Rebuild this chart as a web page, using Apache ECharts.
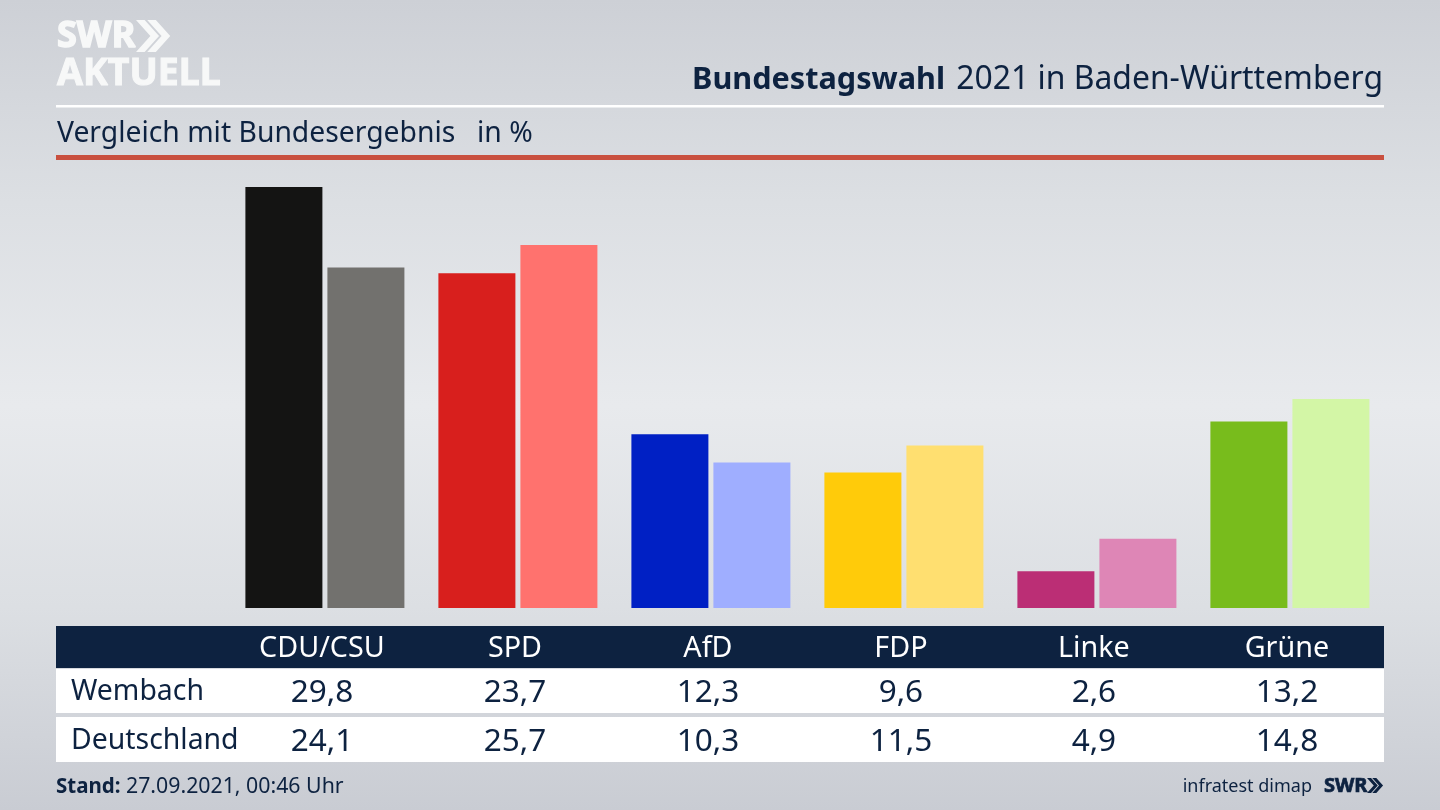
<!DOCTYPE html>
<html>
<head>
<meta charset="utf-8">
<title>Bundestagswahl 2021</title>
<style>
  html, body { margin: 0; padding: 0; }
  #main { width: 1440px; height: 810px; }
</style>
<script src="https://cdn.jsdelivr.net/npm/echarts@6/dist/echarts.min.js"></script>
</head>
<body>
<div id="main"></div>
<script>
const parties = ['CDU/CSU', 'SPD', 'AfD', 'FDP', 'Linke', 'Grüne'];
const wembach = [29.8, 23.7, 12.3, 9.6, 2.6, 13.2];
const deutschland = [24.1, 25.7, 10.3, 11.5, 4.9, 14.8];
const rowNames = ['Wembach', 'Deutschland'];

const darkColors = ['#141413', '#d81f1d', '#0020c4', '#ffcb0a', '#bb2e75', '#78bc1c'];
const lightColors = ['#72716e', '#ff726e', '#9faeff', '#ffdf70', '#de86b6', '#d3f6a6'];

const navy = '#0d2240';
const fontName = '"Noto Sans", sans-serif';
const fmt = v => v.toFixed(1).replace('.', ',');

const chart = echarts.init(document.getElementById('main'));

const option = {
  animation: false,
  backgroundColor: {
    type: 'linear', x: 0, y: 0, x2: 0, y2: 1,
    colorStops: [
      { offset: 0, color: '#cdd0d6' },
      { offset: 0.25, color: '#dcdfe3' },
      { offset: 0.5, color: '#e8eaed' },
      { offset: 0.75, color: '#dcdfe3' },
      { offset: 1, color: '#c9ccd3' }
    ]
  },
  grid: { left: 228.4, top: 156, width: 1158, height: 452 },
  xAxis: { type: 'category', data: parties, show: false },
  yAxis: { type: 'value', min: 0, max: 32, show: false },
  series: [
    {
      name: 'Wembach',
      type: 'bar',
      data: wembach,
      barWidth: 77,
      barGap: '6.5%',
      itemStyle: { color: p => darkColors[p.dataIndex] }
    },
    {
      name: 'Deutschland',
      type: 'bar',
      data: deutschland,
      barWidth: 77,
      itemStyle: { color: p => lightColors[p.dataIndex] }
    }
  ]
};
chart.setOption(option);

function txt(text, x, y, size, opts) {
  opts = opts || {};
  const fill = opts.fill || navy;
  return {
    type: 'text',
    z: 10,
    style: {
      text: text,
      x: x,
      y: y,
      fill: fill,
      stroke: opts.heavy ? fill : null,
      lineWidth: opts.heavy || 0,
      font: (opts.weight || 'normal') + ' ' + size + 'px ' + fontName,
      textAlign: opts.align || 'left',
      textVerticalAlign: 'middle'
    }
  };
}
function box(x, y, w, h, fill) {
  return { type: 'rect', z: 5, shape: { x: x, y: y, width: w, height: h }, style: { fill: fill } };
}
// doppelpfeil vom logo
function chevrons(x, y, h, fill) {
  const w = h * 0.45, t = h * 0.27;
  return [0, 1].map(i => {
    const dx = x + i * (t + h * 0.08);
    return {
      type: 'polygon', z: 10,
      shape: { points: [[dx, y], [dx + t, y], [dx + t + w, y + h / 2], [dx + t, y + h], [dx, y + h], [dx + w, y + h / 2]] },
      style: { fill: fill }
    };
  });
}

const els = [
  box(56, 105, 1328, 2.5, '#ffffff'),
  box(56, 155, 1328, 5, '#c9503f'),
  box(56, 626, 1328, 42, navy),
  box(56, 669, 1328, 44, '#ffffff'),
  box(56, 717, 1328, 45, '#ffffff'),

  txt('SWR', 57, 37, 36, { fill: '#f7f8f8', weight: 'bold', heavy: 1.5 }),
  txt('AKTUELL', 57, 74, 37.5, { fill: '#f7f8f8', weight: 'bold', heavy: 1 }),
  ...chevrons(136, 20, 32, '#f7f8f8'),

  txt('Bundestagswahl', 945, 80, 30.6, { weight: 'bold', align: 'right' }),
  txt('2021 in Baden-Württemberg', 1383, 80, 31.9, { align: 'right' }),
  txt('Vergleich mit Bundesergebnis', 57, 134, 28.3),
  txt('in %', 477, 134, 28.3),

  txt(rowNames[0], 71, 692, 28.4),
  txt(rowNames[1], 71, 741, 28.4),

  txt('Stand:', 56, 787, 20.5, { weight: 'bold' }),
  txt('27.09.2021, 00:46 Uhr', 126, 787, 21.3),
  txt('infratest dimap', 1312, 787, 18, { align: 'right' }),
  txt('SWR', 1324, 786, 20, { weight: 'bold', heavy: 0.7 }),
  ...chevrons(1367, 778, 15, navy)
];

parties.forEach((name, i) => {
  const cx = chart.convertToPixel({ xAxisIndex: 0 }, name) - 3;
  els.push(txt(name, cx, 649, 28.7, { fill: '#ffffff', align: 'center' }));
  els.push(txt(fmt(wembach[i]), cx, 693, 31.5, { align: 'center' }));
  els.push(txt(fmt(deutschland[i]), cx, 742, 31.5, { align: 'center' }));
});

chart.setOption({ graphic: { elements: els } });
</script>
</body>
</html>
